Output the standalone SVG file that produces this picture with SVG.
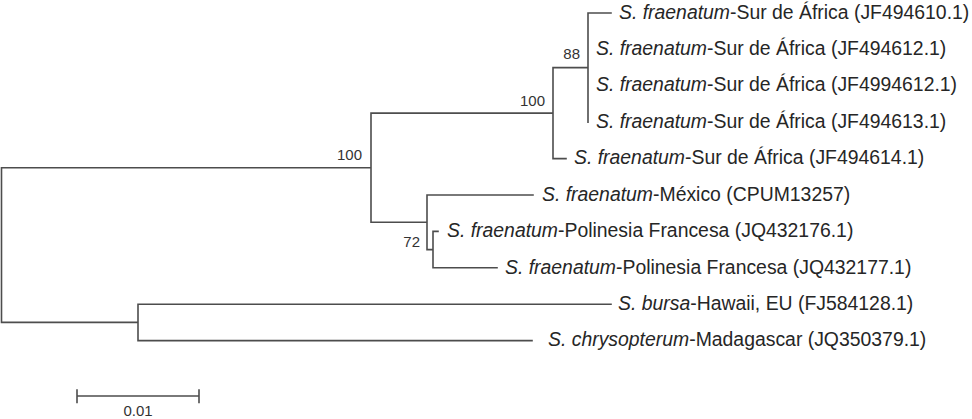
<svg xmlns="http://www.w3.org/2000/svg" width="972" height="419" viewBox="0 0 972 419">
<style>
.br{fill:none;stroke:#4d4d4d;stroke-width:1.6;stroke-linecap:square}
.tip{font-family:"Liberation Sans",Arial,sans-serif;font-size:19.4px;fill:#262626}
.bs{font-family:"Liberation Sans",Arial,sans-serif;font-size:15px;fill:#333;text-anchor:end}
.sc{font-family:"Liberation Sans",Arial,sans-serif;font-size:15px;fill:#333;text-anchor:middle}
.it{font-style:italic}
</style>
<rect width="972" height="419" fill="#fff"/>
<g id="connectors" class="br">
<path d="M1.5 167.7V322.4M1.5 167.7H371M371 113.1V222.3M371 113.1H553M553 67.6V158.6M553 67.6H588M588 13V122.2M588 13H611M553 158.6H566M371 222.3H427M427 195V249.6M427 195H533M427 249.6H433M433 231.4V267.8M433 231.4H438M433 267.8H497M1.5 322.4H138M138 304.2V340.6M138 304.2H611M138 340.6H532"/>
</g>
<g id="node-88"><text class="bs" x="580" y="59">88</text></g>
<g id="node-100a"><text class="bs" x="545" y="106">100</text></g>
<g id="node-100b"><text class="bs" x="362" y="160">100</text></g>
<g id="node-72"><text class="bs" x="420" y="247">72</text></g>
<g id="tip-JF494610"><text class="tip" x="619" y="18.5"><tspan class="it">S. fraenatum</tspan>-Sur de África (JF494610.1)</text></g>
<g id="tip-JF494612"><text class="tip" x="596" y="55"><tspan class="it">S. fraenatum</tspan>-Sur de África (JF494612.1)</text></g>
<g id="tip-JF4994612"><text class="tip" x="596" y="91.4"><tspan class="it">S. fraenatum</tspan>-Sur de África (JF4994612.1)</text></g>
<g id="tip-JF494613"><text class="tip" x="596" y="127.8"><tspan class="it">S. fraenatum</tspan>-Sur de África (JF494613.1)</text></g>
<g id="tip-JF494614"><text class="tip" x="574" y="164.2"><tspan class="it">S. fraenatum</tspan>-Sur de África (JF494614.1)</text></g>
<g id="tip-CPUM13257"><text class="tip" x="542" y="201"><tspan class="it">S. fraenatum</tspan>-México (CPUM13257)</text></g>
<g id="tip-JQ432176"><text class="tip" x="447" y="237.2"><tspan class="it">S. fraenatum</tspan>-Polinesia Francesa (JQ432176.1)</text></g>
<g id="tip-JQ432177"><text class="tip" x="505" y="273.6"><tspan class="it">S. fraenatum</tspan>-Polinesia Francesa (JQ432177.1)</text></g>
<g id="tip-FJ584128"><text class="tip" x="618" y="310"><tspan class="it">S. bursa</tspan>-Hawaii, EU (FJ584128.1)</text></g>
<g id="tip-JQ350379"><text class="tip" x="548" y="346.4"><tspan class="it">S. chrysopterum</tspan>-Madagascar (JQ350379.1)</text></g>
<g id="scale-bar">
<path class="br" d="M77 396H199M77 390V402.5M199 390V402.5"/>
<text class="sc" x="138" y="415.5">0.01</text>
</g>
</svg>
